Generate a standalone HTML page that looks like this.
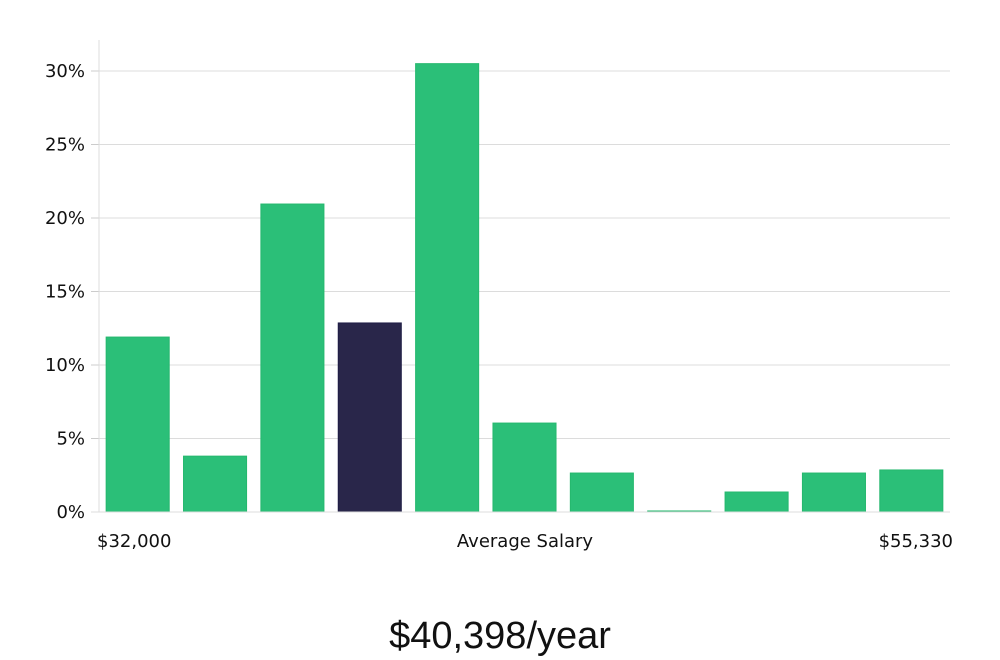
<!DOCTYPE html>
<html><head><meta charset="utf-8"><style>
body{margin:0;background:#fff;}
svg{display:block;font-family:"DejaVu Sans","Liberation Sans",sans-serif;}
</style></head><body>
<svg id="chart" width="1000" height="660"></svg>
<script>
const categories=["b1","b2","b3","b4","b5","b6","b7","b8","b9","b10","b11"];
const values=[11.9,3.8,20.95,12.86,30.5,6.05,2.65,0.07,1.36,2.65,2.86];
const highlight=[false,false,false,true,false,false,false,false,false,false,false];
const yTicks=[0,5,10,15,20,25,30];
const xLabels=["$32,000","Average Salary","$55,330"];
const NS="http://www.w3.org/2000/svg";
const svg=document.getElementById('chart');
const L=99,R=950,T=40,B=512,yMax=30;
const y=v=>B-(v/yMax)*(B-71);
const slot=(R-L)/categories.length;
const x=i=>L+i*slot;
function mk(tag,attrs,parent){const e=document.createElementNS(NS,tag);for(const k in attrs)e.setAttribute(k,attrs[k]);(parent||svg).appendChild(e);return e;}
yTicks.forEach(t=>{
 const g=mk('line',{x1:L,x2:R,y1:y(t),y2:y(t),stroke:'#dcdcdc','stroke-width':1});
 
 
 const tk=mk('line',{x1:L-8,x2:L,y1:y(t),y2:y(t),stroke:'#cccccc'});
 
 
 const tx=mk('text',{x:85,y:y(t)+6,'text-anchor':'end','font-size':18,fill:'#111'});
 tx.textContent=t+'%';
 
 
});
const ax=mk('line',{x1:L,x2:L,y1:T,y2:B,stroke:'#dddddd'});


values.forEach((v,i)=>{
 const bw=slot*0.815,bx=x(i)+(slot-bw)/2;
 const r=mk('rect',{x:bx,y:y(v),width:bw,height:Math.max(B-y(v),1),fill:highlight[i]?'#29264a':'#2bbf78',stroke:highlight[i]?'#1f1c45':'#25b86e','stroke-width':1});
 
 
});
const xa=mk('line',{x1:L-8,x2:R,y1:B,y2:B,stroke:'#dddddd'});


const lx=[[97,'start'],[525,'middle'],[953,'end']];
xLabels.forEach((s,i)=>{
 const t=mk('text',{x:lx[i][0],y:547,'text-anchor':lx[i][1],'font-size':18,fill:'#111'});
 t.textContent=s;
 
 
});
const big=mk('text',{x:500,y:648,'text-anchor':'middle','font-size':38,fill:'#111','font-family':'"Liberation Sans Narrow","Liberation Sans",sans-serif'});
big.textContent='$40,398/year';


</script>
</body></html>
